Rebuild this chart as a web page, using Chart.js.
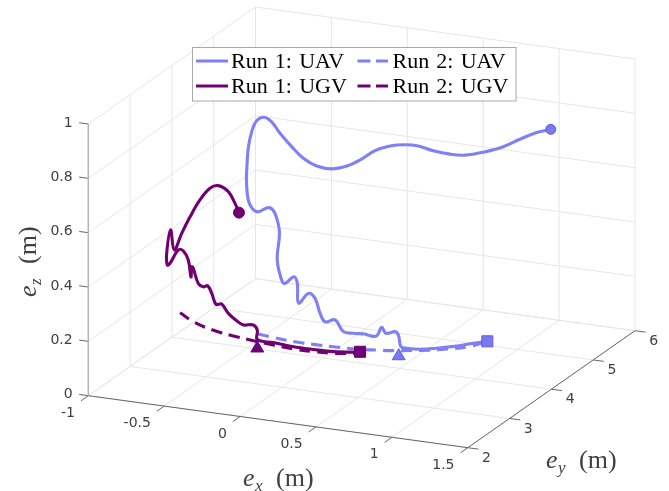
<!DOCTYPE html>
<html>
<head>
<meta charset="utf-8">
<script src="https://cdn.jsdelivr.net/npm/chart.js@4"></script>
<style>
  html, body { margin: 0; padding: 0; background: #fff; }
  canvas { display: block; }
</style>
</head>
<body>
<canvas id="myChart" width="669" height="491"></canvas>
<script>
// tick values of the three axes
const exTicks = [-1, -0.5, 0, 0.5, 1, 1.5];
const eyTicks = [2, 3, 4, 5, 6];
const ezTicks = [0, 0.2, 0.4, 0.6, 0.8, 1];

const legendLabels = ['Run 1: UAV', 'Run 2: UAV', 'Run 1: UGV', 'Run 2: UGV'];

// a flat picture only fixes two of the three coordinates,
// so ey is kept at one estimated value for each vehicle
const uavEy = 4;
const ugvEy = 3;

const uavRun1Ex = [1.078, 0.986, 0.876, 0.744, 0.634, 0.547, 0.509, 0.492, 0.470, 0.411, 0.382, 0.349, 0.294, 0.272, 0.195, 0.129, 0.075, 0.009, -0.024, -0.057, -0.101, -0.165, -0.174, -0.196, -0.255, -0.277, -0.306, -0.292, -0.294, -0.321, -0.354, -0.387, -0.431, -0.468, -0.497, -0.509, -0.507, -0.497, -0.474, -0.441, -0.393, -0.343, -0.288, -0.211, -0.134, -0.046, 0.053, 0.152, 0.239, 0.338, 0.437, 0.536, 0.623, 0.722, 0.832, 0.931, 1.052, 1.183, 1.293, 1.403, 1.496];
const uavRun1Ez = [0.144, 0.130, 0.111, 0.093, 0.081, 0.078, 0.081, 0.122, 0.133, 0.122, 0.142, 0.108, 0.106, 0.109, 0.106, 0.107, 0.146, 0.134, 0.163, 0.215, 0.230, 0.189, 0.262, 0.284, 0.255, 0.266, 0.337, 0.424, 0.455, 0.508, 0.526, 0.520, 0.505, 0.513, 0.543, 0.616, 0.653, 0.734, 0.797, 0.840, 0.856, 0.843, 0.805, 0.762, 0.725, 0.703, 0.700, 0.718, 0.747, 0.789, 0.814, 0.826, 0.828, 0.818, 0.814, 0.818, 0.838, 0.868, 0.904, 0.937, 0.956];

const uavRun2Ex = [-0.431, -0.321, -0.189, -0.068, 0.063, 0.239, 0.349, 0.457, 0.588, 0.700, 0.819, 0.951, 1.078];
const uavRun2Ez = [0.055, 0.050, 0.045, 0.045, 0.046, 0.050, 0.056, 0.062, 0.073, 0.082, 0.096, 0.114, 0.144];

const ugvRun1Ex = [0.515, 0.339, 0.207, 0.075, -0.057, -0.162, -0.162, -0.188, -0.254, -0.298, -0.353, -0.397, -0.434, -0.462, -0.489, -0.518, -0.551, -0.584, -0.594, -0.599, -0.617, -0.650, -0.682, -0.737, -0.755, -0.759, -0.733, -0.709, -0.660, -0.605, -0.540, -0.474, -0.419, -0.353, -0.309, -0.283];
const ugvRun1Ez = [0.168, 0.157, 0.155, 0.155, 0.160, 0.163, 0.198, 0.215, 0.210, 0.222, 0.245, 0.276, 0.272, 0.310, 0.336, 0.330, 0.340, 0.393, 0.398, 0.360, 0.421, 0.452, 0.453, 0.400, 0.392, 0.435, 0.523, 0.451, 0.516, 0.581, 0.648, 0.696, 0.710, 0.693, 0.653, 0.621];

const ugvRun2Ex = [-0.671, -0.572, -0.441, -0.320, -0.188, -0.057, 0.075, 0.207, 0.339, 0.515];
const ugvRun2Ez = [0.223, 0.194, 0.174, 0.164, 0.157, 0.151, 0.147, 0.147, 0.151, 0.164];

// start (triangle) and first point of the recording (square)
const uavTriangle = [0.494, 0.045];
const ugvTriangle = [-0.162, 0.131];
const uavSquare = [1.078, 0.144];
const ugvSquare = [0.515, 0.170];
const uavCircle = [1.496, 0.956];
const ugvCircle = [-0.283, 0.621];

const uavColor = '#7f7ff6';
const ugvColor = '#720072';
const gridColor = '#e6e6e6';

// orthographic view, same one for every point
function project(ex, ey, ez) {
  return {
    x: 88.3 + (ex + 1) * 151.8 + (ey - 2) * 41.8,
    y: 395.7 + (ex + 1) * 20.8 - (ey - 2) * 29.25 - ez * 271.7
  };
}

var datasets = [];

function addSegment(a, b, color, width, order) {
  datasets.push({
    data: [project(a[0], a[1], a[2]), project(b[0], b[1], b[2])],
    showLine: true,
    borderColor: color,
    borderWidth: width,
    pointRadius: 0,
    clip: false,
    order: order
  });
}

function addCurve(exs, ezs, ey, color, dash, order) {
  datasets.push({
    data: exs.map(function (ex, i) { return project(ex, ey, ezs[i]); }),
    showLine: true,
    borderColor: color,
    borderWidth: 3.1,
    borderDash: dash,
    borderCapStyle: dash.length ? 'butt' : 'round',
    borderJoinStyle: 'round',
    tension: 0.38,
    pointRadius: 0,
    clip: false,
    order: order
  });
}

function addMarker(pos, ey, style, radius, fill, edge, order) {
  datasets.push({
    data: [project(pos[0], ey, pos[1])],
    pointStyle: style,
    pointRadius: radius,
    backgroundColor: fill,
    borderColor: edge,
    borderWidth: 1,
    clip: false,
    order: order
  });
}

// grid on floor and the two back walls
exTicks.forEach(function (ex) {
  addSegment([ex, 2, 0], [ex, 6, 0], gridColor, 1, 20);
  addSegment([ex, 6, 0], [ex, 6, 1], gridColor, 1, 20);
});
eyTicks.forEach(function (ey) {
  addSegment([-1, ey, 0], [1.5, ey, 0], gridColor, 1, 20);
  addSegment([-1, ey, 0], [-1, ey, 1], gridColor, 1, 20);
});
ezTicks.forEach(function (ez) {
  addSegment([-1, 2, ez], [-1, 6, ez], gridColor, 1, 20);
  addSegment([-1, 6, ez], [1.5, 6, ez], gridColor, 1, 20);
});

// axes and tick marks
addSegment([-1, 2, 0], [1.5, 2, 0], '#666666', 1, 15);
addSegment([1.5, 2, 0], [1.5, 6, 0], '#666666', 1, 15);
addSegment([-1, 2, 0], [-1, 2, 1], '#b4b4b4', 1.5, 15);
exTicks.forEach(function (ex) {
  addSegment([ex, 2, 0], [ex, 1.825, 0], '#666666', 1, 15);
});
eyTicks.forEach(function (ey) {
  addSegment([1.5, ey, 0], [1.57, ey, 0], '#666666', 1, 15);
});
ezTicks.forEach(function (ez) {
  addSegment([-1, 2, ez], [-1.06, 2, ez], '#666666', 1, 15);
});

addCurve(uavRun1Ex, uavRun1Ez, uavEy, uavColor, [], 8);
addCurve(uavRun2Ex, uavRun2Ez, uavEy, uavColor, [11, 7], 7);
addCurve(ugvRun1Ex, ugvRun1Ez, ugvEy, ugvColor, [], 6);
addCurve(ugvRun2Ex, ugvRun2Ez, ugvEy, ugvColor, [11, 7], 5);

addMarker(uavCircle, uavEy, 'circle', 5, '#7a7aee', '#5c5ce0', 2);
addMarker(uavSquare, uavEy, 'rect', 7.8, '#7a7aee', '#5c5ce0', 2);
addMarker(uavTriangle, uavEy, 'triangle', 7.4, '#7a7aee', '#5c5ce0', 2);
addMarker(ugvCircle, ugvEy, 'circle', 5.5, ugvColor, '#64007a', 1);
addMarker(ugvSquare, ugvEy, 'rect', 7.8, ugvColor, '#64007a', 1);
addMarker(ugvTriangle, ugvEy, 'triangle', 7.4, ugvColor, '#45108c', 1);

// e_x (m) style label, e and subscript in italic
function mathLabel(ctx, x, y, sub, rotation) {
  ctx.save();
  ctx.translate(x, y);
  ctx.rotate(rotation);
  ctx.fillStyle = '#404040';
  ctx.textAlign = 'left';
  ctx.textBaseline = 'alphabetic';
  ctx.font = 'italic 26px "Liberation Serif"';
  ctx.fillText('e', 0, 0);
  ctx.font = 'italic 17px "Liberation Serif"';
  ctx.fillText(sub, 12, 5);
  ctx.font = '26px "Liberation Serif"';
  ctx.fillText('(m)', 33, 0);
  ctx.restore();
}

const axisText = {
  id: 'axisText',
  afterDraw: function (chart) {
    const ctx = chart.ctx;
    ctx.save();
    ctx.font = '14px "DejaVu Sans"';
    ctx.fillStyle = '#404040';
    ctx.textBaseline = 'middle';

    ctx.textAlign = 'right';
    ezTicks.forEach(function (ez) {
      const p = project(-1, 2, ez);
      ctx.fillText(String(ez), p.x - 15.6, p.y - 1);
    });
    exTicks.forEach(function (ex) {
      const p = project(ex, 2, 0);
      ctx.fillText(String(ex), p.x - 13.3, p.y + 17.5);
    });
    ctx.textAlign = 'center';
    eyTicks.forEach(function (ey) {
      const p = project(1.5, ey, 0);
      ctx.fillText(String(ey), p.x + 18.7, p.y + 10.5);
    });
    ctx.restore();

    mathLabel(ctx, 243, 486, 'x', 0);
    mathLabel(ctx, 546, 468, 'y', 0);
    mathLabel(ctx, 36, 297, 'z', -Math.PI / 2);

    // legend box, two columns of two rows
    ctx.save();
    ctx.fillStyle = '#ffffff';
    ctx.strokeStyle = '#a8a8a8';
    ctx.lineWidth = 1;
    ctx.fillRect(192.5, 47.5, 323.5, 53.5);
    ctx.strokeRect(192.5, 47.5, 323.5, 53.5);

    ctx.font = '22px "Liberation Serif"';
    ctx.wordSpacing = '1.7px';
    ctx.fillStyle = '#000000';
    ctx.textAlign = 'left';
    ctx.textBaseline = 'alphabetic';
    ctx.lineWidth = 3;
    legendLabels.forEach(function (label, i) {
      const col = i % 2;
      const row = i < 2 ? 0 : 1;
      const y = row === 0 ? 61 : 86;
      const x0 = col === 0 ? 196 : 357.5;
      const x1 = col === 0 ? 228 : 388;
      ctx.strokeStyle = row === 0 ? uavColor : ugvColor;
      ctx.setLineDash(col === 0 ? [] : [13, 5.5]);
      ctx.beginPath();
      ctx.moveTo(x0, y);
      ctx.lineTo(x1, y);
      ctx.stroke();
      ctx.fillText(label, col === 0 ? 231 : 392.5, y + 7);
    });
    ctx.restore();
  }
};

// the library keeps room for the biggest marker around the plot area,
// so the scales run over that same area to stay one unit per pixel
const markerRoom = 8.8;

var ctx = document.getElementById('myChart').getContext('2d');
var myChart = new Chart(ctx, {
  type: 'scatter',
  data: { datasets: datasets },
  options: {
    responsive: false,
    animation: false,
    layout: { padding: 0 },
    plugins: { legend: { display: false }, tooltip: { enabled: false } },
    scales: {
      x: { type: 'linear', display: false, min: markerRoom, max: 669 - markerRoom },
      y: { type: 'linear', display: false, min: markerRoom, max: 491 - markerRoom, reverse: true }
    }
  },
  plugins: [axisText]
});
</script>
</body>
</html>
